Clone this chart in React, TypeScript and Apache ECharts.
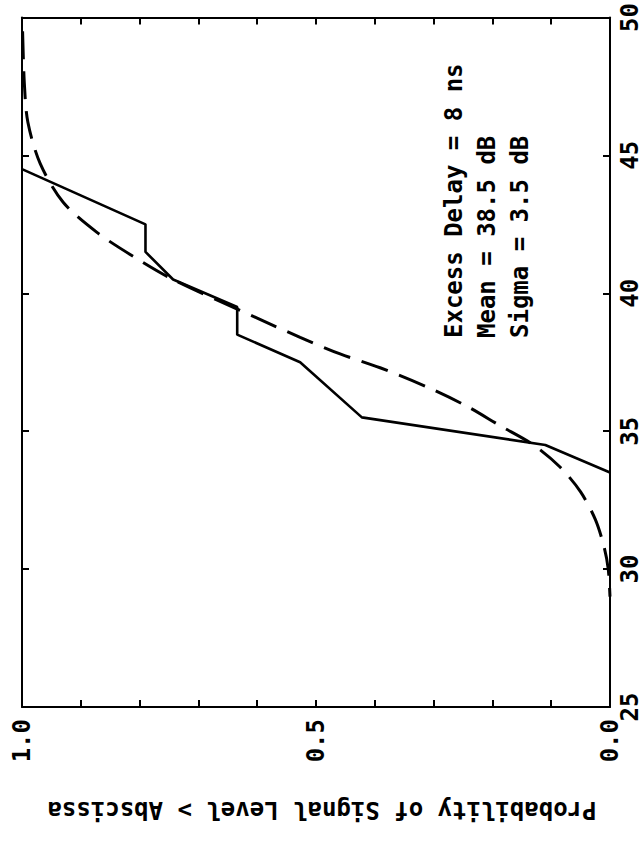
import React, { useEffect, useRef } from 'react';
import * as echarts from 'echarts';

// Empirical curve (solid): probability vs signal level (dB)
const solidProb = [1.0, 0.79, 0.79, 0.743, 0.634, 0.634, 0.527, 0.422, 0.11, 0.0];
const solidLevel = [44.5, 42.5, 41.5, 40.5, 39.5, 38.5, 37.5, 35.5, 34.5, 33.5];

// Fitted curve (dashed)
const dashProb = [0.999, 0.996, 0.99, 0.969, 0.93, 0.872, 0.808, 0.743, 0.6, 0.527, 0.459, 0.391, 0.311, 0.243, 0.187, 0.13, 0.085, 0.05, 0.025, 0.01, 0.003, 0.0];
const dashLevel = [49.5, 47.6, 46.2, 44.7, 43.3, 42.2, 41.3, 40.5, 39.1, 38.4, 37.8, 37.3, 36.6, 35.9, 35.2, 34.5, 33.7, 32.8, 31.8, 30.8, 30.0, 29.0];

const probLabelValues = [0, 0.5, 1.0];
const levelMin = 25;
const levelMax = 50;
const levelStep = 5;

const annotationLines = ['Excess Delay = 8 ns', 'Mean = 38.5 dB', 'Sigma = 3.5 dB'];
const axisTitle = 'Probability of Signal Level > Abscissa';

const FONT = '"DejaVu Sans Mono", monospace';

export default function App() {
  const ref = useRef<HTMLDivElement>(null);
  useEffect(() => {
    const chart = echarts.init(ref.current as HTMLDivElement, null, { renderer: 'svg' });
    const axisCommon = {
      axisLine: { show: true, onZero: false, lineStyle: { color: '#000', width: 2 } },
      axisTick: { show: true, inside: true, length: 7, lineStyle: { color: '#000', width: 2 } },
      splitLine: { show: false },
    };
    const labelStyle = { fontFamily: FONT, fontWeight: 'bold', fontSize: 24, color: '#000' };
    chart.setOption({
      animation: false,
      backgroundColor: '#fff',
      grid: { left: 22, right: 34, top: 16, bottom: 136 },
      xAxis: [
        {
          type: 'value', min: 0, max: 1, interval: 0.1, inverse: true, position: 'bottom',
          ...axisCommon,
          axisLabel: {
            ...labelStyle, rotate: 90, margin: 12, showMinLabel: true, showMaxLabel: true,
            formatter: (v: number) => {
              const hit = probLabelValues.find((p) => Math.abs(p - v) < 1e-6);
              return hit === undefined ? '' : hit.toFixed(1);
            },
          },
        },
        {
          type: 'value', min: 0, max: 1, interval: 0.1, inverse: true, position: 'top',
          ...axisCommon, axisLabel: { show: false },
        },
      ],
      yAxis: [
        {
          type: 'value', min: levelMin, max: levelMax, interval: levelStep, position: 'right',
          ...axisCommon,
          axisLabel: { ...labelStyle, rotate: 90, margin: 8 },
        },
        {
          type: 'value', min: levelMin, max: levelMax, interval: levelStep, position: 'left',
          ...axisCommon, axisLabel: { show: false },
        },
      ],
      series: [
        {
          type: 'line', xAxisIndex: 0, yAxisIndex: 0, symbol: 'none',
          data: solidProb.map((p, i) => [p, solidLevel[i]]),
          lineStyle: { color: '#000', width: 2.6 },
        },
        {
          type: 'line', xAxisIndex: 0, yAxisIndex: 0, symbol: 'none', smooth: 0.3,
          data: dashProb.map((p, i) => [p, dashLevel[i]]),
          lineStyle: { color: '#000', width: 3, type: [28, 12] },
        },
      ],
      graphic: [
        ...annotationLines.map((t, i) => ({
          type: 'text', x: 454 + i * 33, y: 338, rotation: Math.PI / 2,
          style: { text: t, font: `bold 24px ${FONT}`, fill: '#000', textAlign: 'left', textVerticalAlign: 'middle' },
        })),
        {
          type: 'text', x: 322, y: 810, rotation: Math.PI,
          style: { text: axisTitle, font: `bold 24px ${FONT}`, fill: '#000', textAlign: 'center', textVerticalAlign: 'middle' },
        },
      ],
    });
    return () => chart.dispose();
  }, []);
  return <div ref={ref} style={{ position: 'fixed', left: 0, top: 0, width: 644, height: 843 }} />;
}
